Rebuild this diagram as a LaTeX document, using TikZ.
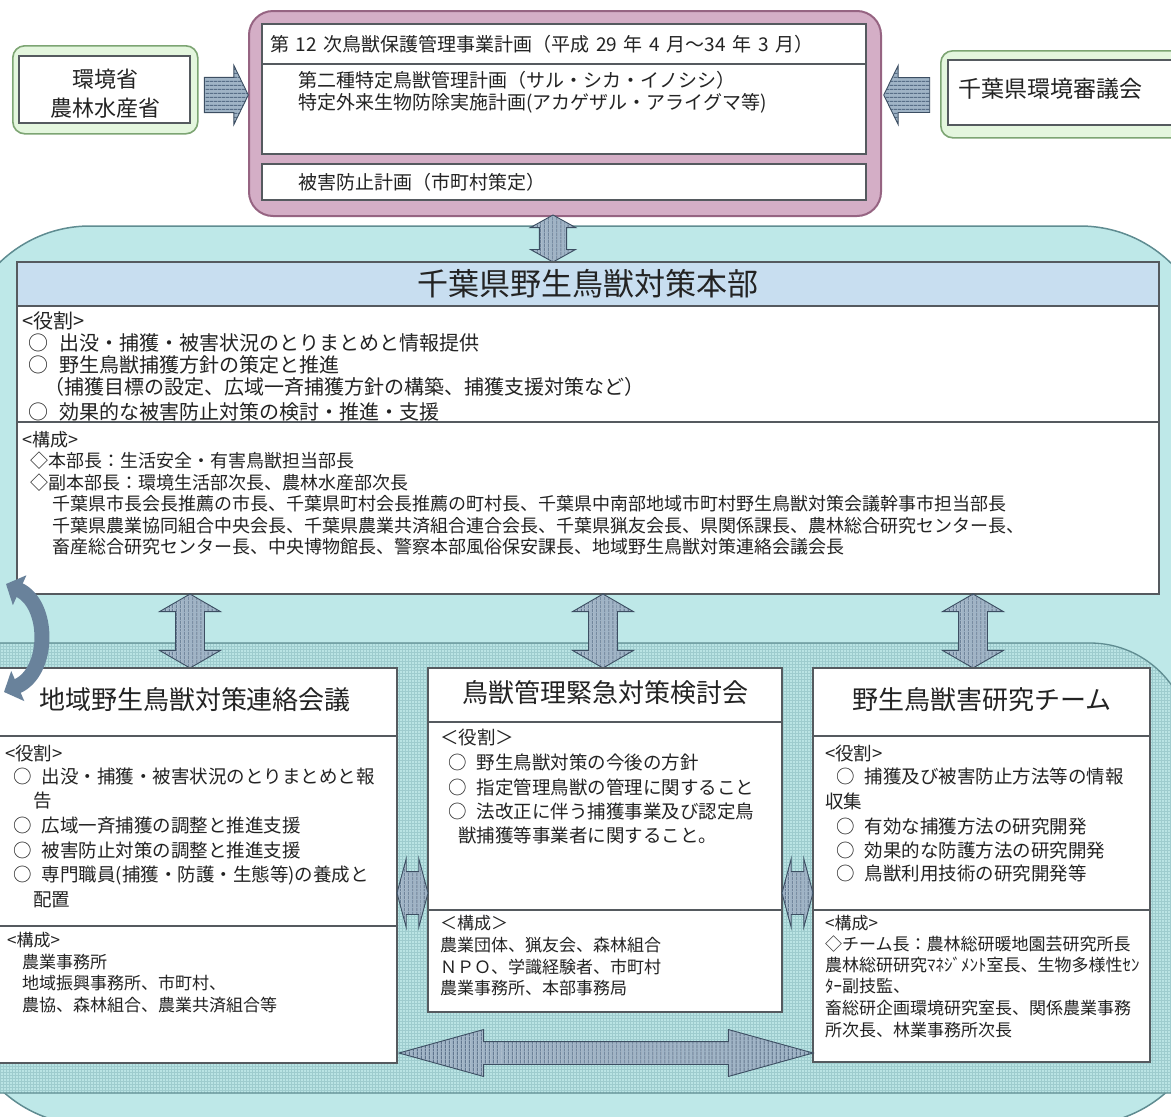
\documentclass[tikz,border=0pt]{standalone}
\usepackage{fontspec}
\setmainfont{Noto Sans CJK JP}
\usetikzlibrary{shapes.arrows,patterns,patterns.meta,arrows.meta,calc}
\definecolor{ink}{RGB}{35,35,35}
\definecolor{pinkfill}{RGB}{212,174,198}
\definecolor{pinkline}{RGB}{150,100,130}
\definecolor{greenfill}{RGB}{228,246,222}
\definecolor{greenline}{RGB}{125,165,115}
\definecolor{tealfill}{RGB}{190,232,232}
\definecolor{tealline}{RGB}{95,140,145}
\definecolor{gridfill}{RGB}{186,228,228}
\definecolor{gridline}{RGB}{158,204,206}
\definecolor{bandfill}{RGB}{200,222,240}
\definecolor{boxline}{RGB}{85,90,95}
\definecolor{arrowbase}{RGB}{160,180,198}
\definecolor{arrowstripe}{RGB}{88,110,135}
\definecolor{arrowline}{RGB}{60,78,98}
\definecolor{curvecol}{RGB}{105,130,155}
\newcommand\circb{○\hspace{0.55em}}
\newcommand\gapq{\hspace{0.35em}}
\tikzset{
  wbox/.style={draw=boxline, fill=white, line width=1.1pt, anchor=north west, inner sep=0pt, outer sep=0pt},
  lbl/.style={anchor=west, inner sep=0pt, text=ink},
  ctr/.style={anchor=center, inner sep=0pt, text=ink},
  fa/.style={font=\fontsize{19}{22}\selectfont},
  fb/.style={font=\fontsize{20}{23}\selectfont},
  fc/.style={font=\fontsize{18.5}{21}\selectfont},
  fe/.style={font=\fontsize{18}{21}\selectfont},
  fd/.style={font=\fontsize{17}{20}\selectfont},
  fg/.style={font=\fontsize{22}{26}\selectfont},
  fk/.style={font=\fontsize{23}{27}\selectfont},
  ft/.style={font=\fontsize{26}{30}\selectfont},
  fh/.style={font=\fontsize{31}{34}\selectfont},
  barrow/.style={draw=arrowline, line width=0.9pt, preaction={fill=arrowbase}, inner xsep=0pt, outer sep=0pt, anchor=center},
  hstripe/.style={pattern={Lines[angle=0,distance=4pt,line width=1.3pt]}, pattern color=arrowstripe},
  vstripe/.style={pattern={Lines[angle=90,distance=4pt,line width=1.3pt]}, pattern color=arrowstripe},
  divline/.style={draw=boxline, line width=1.1pt},
}
\begin{document}
\begin{tikzpicture}[x=1pt,y=-1pt]
\useasboundingbox (0,0) rectangle (1171,1117);
\clip (0,0) rectangle (1171,1117);

% containers
\draw[fill=tealfill, draw=tealline, line width=1.5pt, rounded corners=130pt] (-40,226) rectangle (1210,1125);
\path[preaction={fill=gridfill}, pattern=grid, pattern color=gridline]
  (-20,1093) -- (-20,643) -- (1090,643) arc[start angle=-90, end angle=0, radius=100] -- (1190,1093) -- cycle;
\draw[draw=tealline, line width=1.3pt]
  (-20,1093) -- (-20,643) -- (1090,643) arc[start angle=-90, end angle=0, radius=100] -- (1190,1093) -- cycle;

% top: green left
\node[draw=greenline, fill=greenfill, line width=1.6pt, rounded corners=12pt, minimum width=185, minimum height=88, anchor=north west, inner sep=0pt] (gl) at (12,45) {};
\node[wbox, minimum width=171, minimum height=67] (gli) at (19,56) {};
\node[ctr, fg] (gl1) at (105,79) {環境省};
\node[ctr, fg] (gl2) at (105,108) {農林水産省};

% top: pink plan box
\node[draw=pinkline, fill=pinkfill, line width=2pt, rounded corners=24pt, minimum width=632, minimum height=205, anchor=north west, inner sep=0pt] (pink) at (248,10) {};
\node[wbox, minimum width=604, minimum height=40] (row1) at (262,24) {};
\node[wbox, minimum width=604, minimum height=90] (row2) at (262,64) {};
\node[wbox, minimum width=604, minimum height=36] (row3) at (262,164) {};
\node[lbl, fa] (p1) at (270,44) {第\gapq 12\gapq 次鳥獣保護管理事業計画（平成\gapq 29\gapq 年\gapq 4\gapq 月～34\gapq 年\gapq 3\gapq 月）};
\node[lbl, fa] (p2) at (298,80) {第二種特定鳥獣管理計画（サル・シカ・イノシシ）};
\node[lbl, fa] (p3) at (298,103) {特定外来生物防除実施計画(アカゲザル・アライグマ等)};
\node[lbl, fa] (p4) at (298,182) {被害防止計画（市町村策定）};

% top: green right
\node[draw=greenline, fill=greenfill, line width=1.6pt, rounded corners=12pt, minimum width=250, minimum height=87, anchor=north west, inner sep=0pt] (gr) at (940,50) {};
\node[wbox, minimum width=240, minimum height=65] (gri) at (948,60) {};
\node[ctr, fk] (gr1) at (1050,89) {千葉県環境審議会};

% top arrows
\node[barrow, hstripe, single arrow, inner ysep=17pt, minimum height=44, single arrow head extend=12, single arrow tip angle=128] (ar1) at (222,95) {};
\node[barrow, hstripe, single arrow, inner ysep=17pt, minimum height=46, single arrow head extend=12, single arrow tip angle=128, shape border rotate=180] (ar2) at (911,95) {};
\node[barrow, vstripe, double arrow, rotate=90, inner ysep=13pt, minimum height=47, double arrow head extend=9, double arrow tip angle=122] (av0) at (553,238.5) {};

% headquarters
\node[wbox, minimum width=1142, minimum height=332] (hq) at (17,262) {};
\node[wbox, fill=bandfill, minimum width=1142, minimum height=44] (hqband) at (17,262) {};
\node[ctr, fh] (hqt) at (hqband.center) {千葉県野生鳥獣対策本部};
\draw[divline] ($(hq.north west)+(0,160)$) -- ($(hq.north east)+(0,160)$);
\node[lbl, fb] (hqr0) at (22,321) {<役割>};
\node[lbl, fb] (hqr1) at (28,343) {\circb 出没・捕獲・被害状況のとりまとめと情報提供};
\node[lbl, fb] (hqr2) at (28,365) {\circb 野生鳥獣捕獲方針の策定と推進};
\node[lbl, fb] (hqr3) at (44,387) {（捕獲目標の設定、広域一斉捕獲方針の構築、捕獲支援対策など）};
\node[lbl, fb] (hqr4) at (28,412) {\circb 効果的な被害防止対策の検討・推進・支援};
\node[lbl, fe] (hqc0) at (22,440) {<構成>};
\node[lbl, fe] (hqc1) at (30,461) {◇本部長：生活安全・有害鳥獣担当部長};
\node[lbl, fe] (hqc2) at (30,483) {◇副本部長：環境生活部次長、農林水産部次長};
\node[lbl, fe] (hqc3) at (52,504) {千葉県市長会長推薦の市長、千葉県町村会長推薦の町村長、千葉県中南部地域市町村野生鳥獣対策会議幹事市担当部長};
\node[lbl, fe] (hqc4) at (52,526) {千葉県農業協同組合中央会長、千葉県農業共済組合連合会長、千葉県猟友会長、県関係課長、農林総合研究センター長、};
\node[lbl, fe] (hqc5) at (52,547) {畜産総合研究センター長、中央博物館長、警察本部風俗保安課長、地域野生鳥獣対策連絡会議会長};

% vertical arrows HQ <-> groups
\node[barrow, vstripe, double arrow, rotate=90, inner ysep=14pt, minimum height=74, double arrow head extend=16, double arrow tip angle=120] (av1) at (190,631) {};
\node[barrow, vstripe, double arrow, rotate=90, inner ysep=14pt, minimum height=74, double arrow head extend=16, double arrow tip angle=120] (av2) at (603,631) {};
\node[barrow, vstripe, double arrow, rotate=90, inner ysep=14pt, minimum height=74, double arrow head extend=16, double arrow tip angle=120] (av3) at (973,631) {};

% left group
\node[wbox, minimum width=401, minimum height=395] (lb) at (-4,668) {};
\draw[divline] ($(lb.north west)+(0,68)$) -- ($(lb.north east)+(0,68)$);
\draw[divline] ($(lb.north west)+(0,258)$) -- ($(lb.north east)+(0,258)$);
\node[ctr, ft] (lbt) at (195,700) {地域野生鳥獣対策連絡会議};
\node[lbl, fc] (lr0) at (5,753) {<役割>};
\node[lbl, fc] (lr1) at (13,776) {\circb 出没・捕獲・被害状況のとりまとめと報};
\node[lbl, fc] (lr2) at (33,801) {告};
\node[lbl, fc] (lr3) at (13,826) {\circb 広域一斉捕獲の調整と推進支援};
\node[lbl, fc] (lr4) at (13,850) {\circb 被害防止対策の調整と推進支援};
\node[lbl, fc] (lr5) at (13,875) {\circb 専門職員(捕獲・防護・生態等)の養成と};
\node[lbl, fc] (lr6) at (33,900) {配置};
\node[lbl, fd] (lc0) at (7,940) {<構成>};
\node[lbl, fd] (lc1) at (22,962) {農業事務所};
\node[lbl, fd] (lc2) at (22,983) {地域振興事務所、市町村、};
\node[lbl, fd] (lc3) at (22,1005) {農協、森林組合、農業共済組合等};

% centre group
\node[wbox, minimum width=354, minimum height=344] (cb) at (428,668) {};
\draw[divline] ($(cb.north west)+(0,54)$) -- ($(cb.north east)+(0,54)$);
\draw[divline] ($(cb.north west)+(0,242)$) -- ($(cb.north east)+(0,242)$);
\node[ctr, ft] (cbt) at (605,693) {鳥獣管理緊急対策検討会};
\node[lbl, fc] (cr0) at (440,737) {＜役割＞};
\node[lbl, fc] (cr1) at (448,762) {\circb 野生鳥獣対策の今後の方針};
\node[lbl, fc] (cr2) at (448,787) {\circb 指定管理鳥獣の管理に関すること};
\node[lbl, fc] (cr3) at (448,811) {\circb 法改正に伴う捕獲事業及び認定鳥};
\node[lbl, fc] (cr4) at (458,835) {獣捕獲等事業者に関すること。};
\node[lbl, fd] (cc0) at (440,923) {＜構成＞};
\node[lbl, fd] (cc1) at (440,945) {農業団体、猟友会、森林組合};
\node[lbl, fd] (cc2) at (440,967) {ＮＰＯ、学識経験者、市町村};
\node[lbl, fd] (cc3) at (440,988) {農業事務所、本部事務局};

% right group
\node[wbox, minimum width=337, minimum height=394] (rb) at (813,668) {};
\draw[divline] ($(rb.north west)+(0,68)$) -- ($(rb.north east)+(0,68)$);
\draw[divline] ($(rb.north west)+(0,242)$) -- ($(rb.north east)+(0,242)$);
\node[ctr, ft] (rbt) at (982,700) {野生鳥獣害研究チーム};
\node[lbl, fc] (rr0) at (825,753) {<役割>};
\node[lbl, fc] (rr1) at (836,776) {\circb 捕獲及び被害防止方法等の情報};
\node[lbl, fc] (rr2) at (825,801) {収集};
\node[lbl, fc] (rr3) at (836,826) {\circb 有効な捕獲方法の研究開発};
\node[lbl, fc] (rr4) at (836,850) {\circb 効果的な防護方法の研究開発};
\node[lbl, fc] (rr5) at (836,873) {\circb 鳥獣利用技術の研究開発等};
\node[lbl, fd] (rc0) at (825,923) {<構成>};
\node[lbl, fd] (rc1) at (825,944) {◇チーム長：農林総研暖地園芸研究所長};
\node[lbl, fd] (rc2) at (825,965) {農林総研研究ﾏﾈｼﾞﾒﾝﾄ室長、生物多様性ｾﾝ};
\node[lbl, fd] (rc3) at (825,986) {ﾀｰ副技監、};
\node[lbl, fd] (rc4) at (825,1008) {畜総研企画環境研究室長、関係農業事務};
\node[lbl, fd] (rc5) at (825,1030) {所次長、林業事務所次長};

% horizontal arrows between groups
\node[barrow, vstripe, double arrow, inner ysep=21pt, minimum height=31, double arrow head extend=13, double arrow tip angle=150] (ah1) at (412.5,893) {};
\node[barrow, vstripe, double arrow, inner ysep=21pt, minimum height=31, double arrow head extend=13, double arrow tip angle=150] (ah2) at (797.5,893) {};
\node[barrow, vstripe, double arrow, inner ysep=11pt, minimum height=414, double arrow head extend=12, double arrow tip angle=31] (ahb) at (606,1053) {};

% curved arrow at the left edge
\coordinate (ca1) at (6,584);
\coordinate (ca2) at (4,692);
\draw[line width=15pt, draw=curvecol, {Triangle[width=32pt,length=15pt]}-{Triangle[width=32pt,length=15pt]}] (ca1) .. controls (50,604) and (50,672) .. (ca2);
\end{tikzpicture}
\end{document}
